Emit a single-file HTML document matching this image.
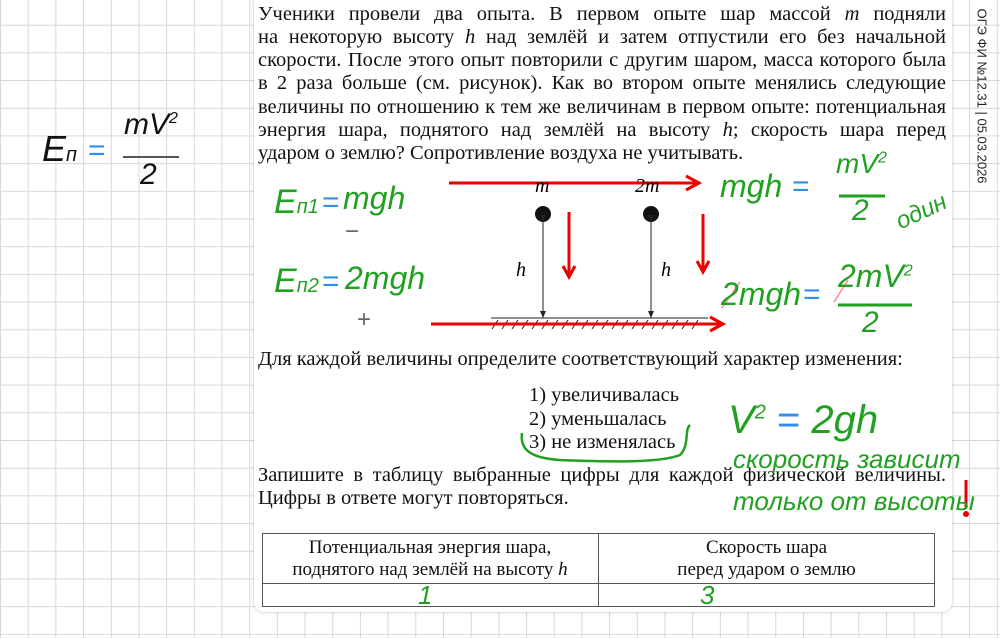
<!DOCTYPE html>
<html><head><meta charset="utf-8">
<style>
*{margin:0;padding:0;box-sizing:border-box}
body{width:1000px;height:638px;overflow:hidden;position:relative;background:#fff;
background-image:linear-gradient(#d8d8d8 1px,transparent 1px),linear-gradient(90deg,#d8d8d8 1px,transparent 1px);
background-size:27.7px 27.7px;background-position:0 -3px,0 0;font-family:"Liberation Serif",serif}
.panel{position:absolute;left:254px;top:-10px;width:698px;height:622px;background:#fff;border-radius:10px;box-shadow:0 0 3px rgba(0,0,0,.25)}
.t{position:absolute;font-size:20.5px;color:#111;line-height:23.3px;white-space:nowrap}
.p{left:258px;width:688px;text-align:justify;text-align-last:justify}
.g{position:absolute;color:#22a022;font-family:"Liberation Sans",sans-serif;font-style:italic;white-space:nowrap}
.b{color:#2f8ff0;font-style:normal}
svg{position:absolute;left:0;top:0}
</style></head><body>
<div class="panel"></div>
<div class="t p" style="top:3px">Ученики провели два опыта. В первом опыте шар массой <i>m</i> подняли</div>
<div class="t p" style="top:26px">на некоторую высоту <i>h</i> над землёй и затем отпустили его без начальной</div>
<div class="t p" style="top:49px">скорости. После этого опыт повторили с другим шаром, масса которого была</div>
<div class="t p" style="top:72px">в 2 раза больше (см. рисунок). Как во втором опыте менялись следующие</div>
<div class="t p" style="top:96px">величины по отношению к тем же величинам в первом опыте: потенциальная</div>
<div class="t p" style="top:119px">энергия шара, поднятого над землёй на высоту <i>h</i>; скорость шара перед</div>
<div class="t" style="left:258px;top:142px">ударом о землю? Сопротивление воздуха не учитывать.</div>
<div class="t" style="left:258px;top:348px">Для каждой величины определите соответствующий характер изменения:</div>
<div class="t" style="left:529px;top:384px">1) увеличивалась</div>
<div class="t" style="left:529px;top:408px">2) уменьшалась</div>
<div class="t" style="left:529px;top:431px">3) не изменялась</div>
<div class="t p" style="top:464px">Запишите в таблицу выбранные цифры для каждой физической величины.</div>
<div class="t" style="left:258px;top:487px">Цифры в ответе могут повторяться.</div>
<div style="position:absolute;left:262px;top:533px;width:673px;height:74px;border:1px solid #555"></div>
<div style="position:absolute;left:262px;top:583px;width:673px;border-top:1px solid #555"></div>
<div style="position:absolute;left:598px;top:533px;height:74px;border-left:1px solid #555"></div>
<div class="t" style="left:262px;top:537px;width:336px;text-align:center;font-size:19px;line-height:22px">Потенциальная энергия шара,<br>поднятого над землёй на высоту <i>h</i></div>
<div class="t" style="left:598px;top:537px;width:337px;text-align:center;font-size:19px;line-height:22px">Скорость шара<br>перед ударом о землю</div>
<svg width="1000" height="638">
<defs><marker id="ak" markerWidth="8" markerHeight="8" refX="7" refY="4" orient="auto"><path d="M0,1 L7,4 L0,7" fill="#222"/></marker></defs>
<line x1="449" y1="183" x2="698" y2="183" stroke="#e00" stroke-width="3"/>
<path d="M686,176 L699,183 L686,190" stroke="#e00" stroke-width="3" fill="none"/>
<text x="535" y="192" font-size="20" font-style="italic" font-family="Liberation Serif">m</text>
<text x="635" y="192" font-size="20" font-style="italic" font-family="Liberation Serif">2m</text>
<circle cx="543" cy="214" r="8" fill="#111"/><circle cx="651" cy="214" r="8" fill="#111"/>
<line x1="543" y1="222" x2="543" y2="318" stroke="#222" marker-end="url(#ak)" marker-start="url(#ak)"/>
<line x1="651" y1="222" x2="651" y2="318" stroke="#222" marker-end="url(#ak)" marker-start="url(#ak)"/>
<text x="516" y="276" font-size="20" font-style="italic" font-family="Liberation Serif">h</text>
<text x="661" y="276" font-size="20" font-style="italic" font-family="Liberation Serif">h</text>
<line x1="491" y1="318" x2="708" y2="318" stroke="#222"/>
<g stroke="#222">
<path d="M498,320l-6,9M508,320l-6,9M518,320l-6,9M528,320l-6,9M538,320l-6,9M548,320l-6,9M558,320l-6,9M568,320l-6,9M578,320l-6,9M588,320l-6,9M598,320l-6,9M608,320l-6,9M618,320l-6,9M628,320l-6,9M638,320l-6,9M648,320l-6,9M658,320l-6,9M668,320l-6,9M678,320l-6,9M688,320l-6,9M698,320l-6,9"/>
</g>
<line x1="431" y1="324" x2="722" y2="324" stroke="#e00" stroke-width="3"/>
<path d="M710,317 L723,324 L710,331" stroke="#e00" stroke-width="3" fill="none"/>
<g stroke="#e00" stroke-width="3" fill="none">
<line x1="569" y1="212" x2="569" y2="276"/><path d="M563,266 L569,277 L575,266"/>
<line x1="703" y1="214" x2="703" y2="270"/><path d="M697,261 L703,272 L709,261"/>
</g>
<path d="M522,433 C520,448 528,458 560,460 C610,462 660,463 680,455 C690,445 684,430 690,425" stroke="#22a022" stroke-width="2.5" fill="none"/>
<line x1="123" y1="157" x2="179" y2="157" stroke="#555" stroke-width="2"/>
<line x1="839" y1="196" x2="885" y2="196" stroke="#22a022" stroke-width="3"/>
<line x1="838" y1="305" x2="912" y2="305" stroke="#22a022" stroke-width="3"/>
<line x1="722" y1="308" x2="740" y2="282" stroke="#f88" stroke-width="1.5"/>
<line x1="834" y1="302" x2="848" y2="280" stroke="#f88" stroke-width="1.5"/>
<line x1="966" y1="480" x2="966" y2="508" stroke="#e00" stroke-width="3"/><circle cx="966" cy="514" r="3" fill="#e00"/>
</svg>
<div class="g" style="left:42px;top:128px;font-size:36px;color:#111">E<span style="font-size:20px">п</span></div>
<div class="g b" style="left:88px;top:134px;font-size:30px">=</div>
<div class="g" style="left:124px;top:108px;font-size:30px;color:#111">mV<sup style="font-size:16px">2</sup></div>
<div class="g" style="left:140px;top:158px;font-size:30px;color:#111">2</div>
<div class="g" style="left:274px;top:183px;font-size:34px">E<span style="font-size:20px">п1</span></div>
<div class="g b" style="left:322px;top:186px;font-size:30px">=</div>
<div class="g" style="left:343px;top:180px;font-size:32px">mgh</div>
<div class="g" style="left:345px;top:218px;font-size:24px;color:#666;font-style:normal">−</div>
<div class="g" style="left:274px;top:262px;font-size:34px">E<span style="font-size:20px">п2</span></div>
<div class="g b" style="left:322px;top:265px;font-size:30px">=</div>
<div class="g" style="left:345px;top:260px;font-size:32px">2mgh</div>
<div class="g" style="left:357px;top:306px;font-size:24px;color:#666;font-style:normal">+</div>
<div class="g" style="left:720px;top:168px;font-size:32px">mgh</div>
<div class="g b" style="left:792px;top:170px;font-size:30px">=</div>
<div class="g" style="left:836px;top:148px;font-size:28px">mV<sup style="font-size:16px">2</sup></div>
<div class="g" style="left:852px;top:194px;font-size:30px">2</div>
<div class="g" style="left:895px;top:198px;font-size:24px;transform:rotate(-25deg)">один</div>
<div class="g" style="left:721px;top:276px;font-size:32px">2mgh</div>
<div class="g b" style="left:803px;top:278px;font-size:30px">=</div>
<div class="g" style="left:838px;top:258px;font-size:32px">2mV<sup style="font-size:16px">2</sup></div>
<div class="g" style="left:862px;top:306px;font-size:30px">2</div>
<div class="g" style="left:728px;top:398px;font-size:40px">V<sup style="font-size:20px">2</sup> <span class="b">=</span> 2gh</div>
<div class="g" style="left:733px;top:444px;font-size:26px">скорость зависит</div>
<div class="g" style="left:733px;top:486px;font-size:26px">только от высоты</div>
<div class="g" style="left:418px;top:580px;font-size:26px">1</div>
<div class="g" style="left:700px;top:580px;font-size:26px">3</div>
<div style="position:absolute;left:982px;top:96px;transform:translate(-50%,-50%) rotate(90deg);font-family:'Liberation Sans',sans-serif;font-size:13px;color:#222;white-space:nowrap">ОГЭ ФИ №12.31 | 05.03.2026</div>
</body></html>
